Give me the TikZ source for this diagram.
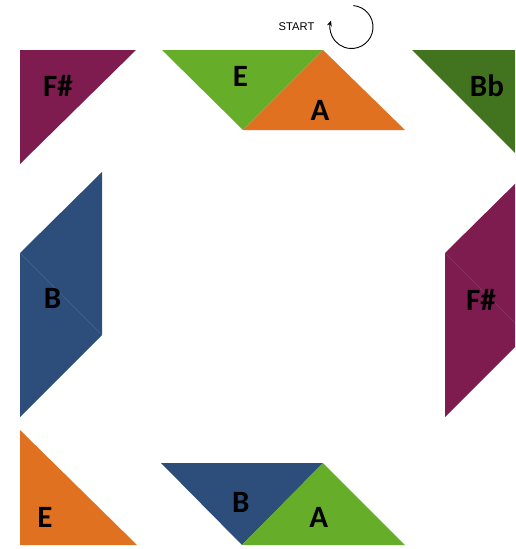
\documentclass[tikz,border=0pt]{standalone}
\usepackage{fontspec}
\setmainfont{Carlito}
\newfontfamily\startfont{Liberation Sans}
\usetikzlibrary{arrows.meta}
\definecolor{cpurple}{RGB}{126,28,79}
\definecolor{cblue}{RGB}{45,78,122}
\definecolor{cgreen}{RGB}{102,174,42}
\definecolor{corange}{RGB}{224,113,32}
\definecolor{cdgreen}{RGB}{66,115,30}
\tikzset{
  lbl/.style={font=\fontsize{31}{31}\selectfont\bfseries, text=black, inner sep=0pt, anchor=base},
  seam/.style={line width=0.4pt, draw=white, opacity=0.12}
}
\begin{document}
\begin{tikzpicture}[x=1pt,y=-1pt]
\useasboundingbox (0,0) rectangle (515,549);
\begin{scope}
\clip (0,0) rectangle (515,549);
% top-left F#
\fill[cpurple] (20,50) -- (136,50) -- (20,164) -- cycle;
% top middle E / A
\fill[cgreen] (162,50) -- (323,50) -- (243,130) -- cycle;
\fill[corange] (323,50) -- (405,130) -- (243,130) -- cycle;
% top-right Bb
\fill[cdgreen] (412,50) -- (530,50) -- (530,168) -- cycle;
% left B parallelogram
\fill[cblue] (20,253) -- (102,172) -- (102,335) -- (20,417) -- cycle;
\draw[seam] (20,253) -- (102,335);
% right F# parallelogram
\fill[cpurple] (445,253) -- (527,172) -- (527,335) -- (445,417) -- cycle;
\draw[seam] (445,253) -- (527,335);
% bottom-left E
\fill[corange] (20,430) -- (137,545) -- (20,545) -- cycle;
% bottom middle B / A
\fill[cblue] (161,463) -- (323,463) -- (242,545) -- cycle;
\fill[cgreen] (323,463) -- (405,545) -- (242,545) -- cycle;
\end{scope}
% labels (anchored at baseline)
\node[lbl] (fs1) at (58,96.5) {F\#};
\node[lbl] (e1) at (240.5,86) {E};
\node[lbl] (a1) at (320,120) {A};
\node[lbl] (bb) at (487,96.5) {Bb};
\node[lbl] (b1) at (52.5,308) {B};
\node[lbl] (fs2) at (481,310) {F\#};
\node[lbl] (e2) at (45,527) {E};
\node[lbl] (b2) at (240.7,512) {B};
\node[lbl] (a2) at (318.8,527) {A};
% start
\node[font=\startfont\fontsize{11.2}{11.2}\selectfont, inner sep=0pt, anchor=base] (start) at (296.5,30.7) {START};
\coordinate (rc) at (351.5,27);
\draw[line width=0.9pt, -{Stealth[length=5.5pt,width=5pt]}] ([shift={(-85:21.5)}]rc) arc[start angle=-85, end angle=197, radius=21.5];
\end{tikzpicture}
\end{document}
